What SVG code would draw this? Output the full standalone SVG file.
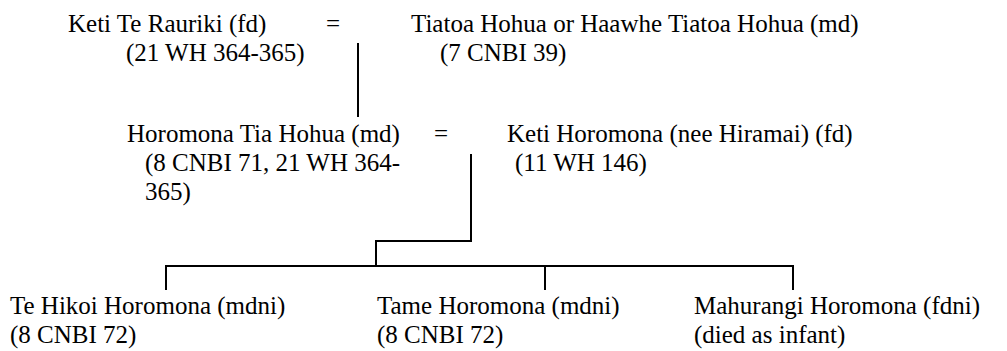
<svg xmlns="http://www.w3.org/2000/svg" width="1007" height="351" viewBox="0 0 1007 351">
<style>
.t{font-family:'Liberation Serif','Times New Roman',serif;font-size:25px;fill:#000}
.c{stroke:#000;stroke-width:2;fill:none}
</style>
<rect width="1007" height="351" fill="#fff"/>
<g id="connectors">
<path class="c" d="M358 43V117"/>
<path class="c" d="M471 154V241H376V266"/>
<path class="c" d="M166 290V266H793V290M545 266V290"/>
</g>
<g class="t">
<g id="keti-te-rauriki"><text x="68" y="32">Keti Te Rauriki (fd)</text><text x="126" y="61">(21 WH 364-365)</text></g>
<g id="eq1"><text x="326" y="32">=</text></g>
<g id="tiatoa"><text x="411" y="32">Tiatoa Hohua or Haawhe Tiatoa Hohua (md)</text><text x="440" y="61">(7 CNBI 39)</text></g>
<g id="horomona-tia"><text x="127" y="142">Horomona Tia Hohua (md)</text><text x="145" y="171">(8 CNBI 71, 21 WH 364-</text><text x="145" y="200">365)</text></g>
<g id="eq2"><text x="434" y="142">=</text></g>
<g id="keti-horomona"><text x="507" y="142">Keti Horomona (nee Hiramai) (fd)</text><text x="515" y="171">(11 WH 146)</text></g>
<g id="te-hikoi"><text x="10" y="314">Te Hikoi Horomona (mdni)</text><text x="10" y="343">(8 CNBI 72)</text></g>
<g id="tame"><text x="377" y="314">Tame Horomona (mdni)</text><text x="377" y="343">(8 CNBI 72)</text></g>
<g id="mahurangi"><text x="694" y="314">Mahurangi Horomona (fdni)</text><text x="694" y="343">(died as infant)</text></g>
</g>
</svg>
